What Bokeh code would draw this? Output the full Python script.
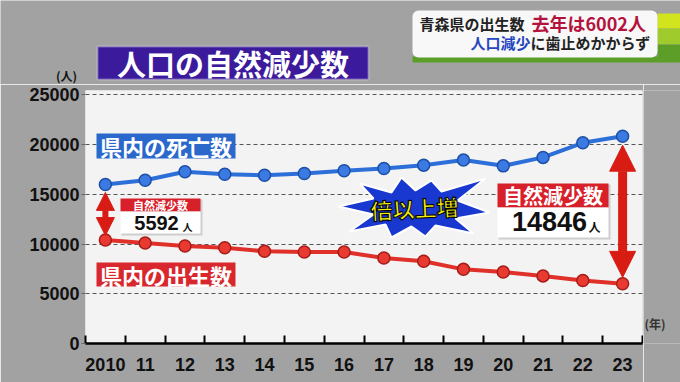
import numpy as np
from bokeh.plotting import figure
from bokeh.layouts import column, row
from bokeh.models import Range1d, FixedTicker, Label, BoxAnnotation, Arrow, NormalHead
from bokeh.embed import file_html
from bokeh.resources import INLINE

# ---- data ----
years = [2010, 2011, 2012, 2013, 2014, 2015, 2016, 2017, 2018, 2019, 2020, 2021, 2022, 2023]
year_labels = ["2010", "11", "12", "13", "14", "15", "16", "17", "18", "19", "20", "21", "22", "23"]
deaths = [16000, 16430, 17270, 17030, 16930, 17100, 17370, 17600, 17940, 18450, 17870, 18720, 20190, 20848]
births = [10408, 10110, 9810, 9640, 9270, 9200, 9200, 8600, 8270, 7460, 7190, 6800, 6330, 6002]
y_ticks = [0, 5000, 10000, 15000, 20000, 25000]
gap_2010 = "5592"
gap_2023 = "14846"

FONT = "Noto Sans CJK JP"
NUM_FONT = "Liberation Sans"
BLUE = "#2d6fd8"
RED = "#e0302a"
GRAY = "#a2a2a2"

TOP_H = 84
MAIN_W, MAIN_H = 643, 382 - TOP_H
SIDE_W = 680 - MAIN_W


def make_box(fig, X1, Y1, X2, Y2, color, tx, ty, units="data", line_color=None, line_width=0, radius=0, alpha=1.0):
    b = BoxAnnotation(left=tx(X1), right=tx(X2), top=ty(Y1), bottom=ty(Y2),
                      left_units=units, right_units=units, top_units=units, bottom_units=units,
                      fill_color=color, fill_alpha=alpha, line_color=line_color, line_width=line_width,
                      border_radius=radius)
    fig.add_layout(b)


def make_text(fig, X, Y, s, size, color, tx, ty, units="data", align="center", outline=None, angle=0, font=FONT):
    kw = dict(x=tx(X), y=ty(Y), x_units=units, y_units=units, text=s,
              text_font=font, text_font_style="bold", text_font_size=f"{size}px",
              text_color=color, text_align=align, text_baseline="middle", angle=angle)
    if outline:
        kw["text_outline_color"] = outline
    fig.add_layout(Label(**kw))


def bare(fig):
    fig.axis.visible = False
    fig.grid.visible = False
    fig.outline_line_color = None
    fig.border_fill_color = GRAY
    fig.background_fill_color = GRAY


# ---------------- top strip (header) ----------------
top = figure(width=680, height=TOP_H, output_backend="svg", toolbar_location=None,
             x_range=Range1d(0, 680), y_range=Range1d(0, TOP_H), min_border=0)
bare(top)
tX = lambda X: X
tY = lambda Y: TOP_H - Y

# title
make_box(top, 97, 46, 368, 79, "#3c1a9c", tX, tY, line_color="white", line_width=2)
make_text(top, 232.5, 62, "人口の自然減少数", 29, "white", tX, tY)
# unit label
make_text(top, 66, 75, "(人)", 12, "#111111", tX, tY)

# headline box top-right
make_box(top, 412, 56, 680, 62, "#5c9e28", tX, tY)
make_box(top, 657, 13, 680, 28, "#d2e41e", tX, tY)
make_box(top, 657, 28, 680, 44, "#9fcc2c", tX, tY)
make_box(top, 657, 44, 680, 57, "#5c9e28", tX, tY)
make_box(top, 412, 10, 657, 57, "#f8f8f8", tX, tY, radius=6)
make_text(top, 419, 22.5, "青森県の出生数", 15, "#222222", tX, tY, align="left")
make_text(top, 531, 22.5, "去年は6002人", 18, "#b4123c", tX, tY, align="left")
make_text(top, 470, 42, "人口減少", 15, "#2646c0", tX, tY, align="left")
make_text(top, 530, 42, "に歯止めかからず", 15, "#222222", tX, tY, align="left")

# ---------------- main chart ----------------
p = figure(width=MAIN_W, height=MAIN_H, output_backend="svg", toolbar_location=None,
           x_range=Range1d(2009.5, 2023.5), y_range=Range1d(0, 25450),
           min_border_left=85, min_border_right=MAIN_W - 642, min_border_top=90 - TOP_H,
           min_border_bottom=MAIN_H - (343 - TOP_H))
p.border_fill_color = GRAY
p.background_fill_color = "#f3f3f3"
p.outline_line_color = None

FL, FB = 85, 343  # frame left / bottom in page pixels
sX = lambda X: X - FL
sY = lambda Y: FB - Y

p.xgrid.grid_line_color = None
p.ygrid.ticker = FixedTicker(ticks=y_ticks)
p.ygrid.grid_line_color = "#555555"
p.ygrid.grid_line_dash = "4 3"
p.ygrid.grid_line_width = 1

p.yaxis.ticker = FixedTicker(ticks=y_ticks)
p.yaxis.axis_line_color = None
p.yaxis.major_tick_line_color = "#666666"
p.yaxis.major_tick_out = 4
p.yaxis.major_tick_in = 0
p.yaxis.minor_tick_line_color = None
p.yaxis.major_label_standoff = 2
p.yaxis.major_label_text_font = NUM_FONT
p.yaxis.major_label_text_font_style = "bold"
p.yaxis.major_label_text_font_size = "18px"
p.yaxis.major_label_text_color = "#111111"

p.xaxis.ticker = FixedTicker(ticks=years, minor_ticks=[y - 0.5 for y in years] + [years[-1] + 0.5])
p.xaxis.major_label_overrides = {y: l for y, l in zip(years, year_labels)}
p.xaxis.axis_line_color = "black"
p.xaxis.axis_line_width = 2.5
p.xaxis.major_tick_line_color = None
p.xaxis.minor_tick_line_color = "black"
p.xaxis.minor_tick_line_width = 2
p.xaxis.minor_tick_in = 8
p.xaxis.minor_tick_out = 0
p.xaxis.major_label_standoff = 8
p.xaxis.major_label_text_font = NUM_FONT
p.xaxis.major_label_text_font_style = "bold"
p.xaxis.major_label_text_font_size = "18px"
p.xaxis.major_label_text_color = "#111111"

# starburst (decoration)
cx, cy = 413, 208
burst = [(-75, -2), (-40, -10), (-54, -25), (-22, -16), (-12, -31), (2, -18), (18, -28), (28, -17),
         (72, -30), (44, -8), (76, 4), (42, 10), (60, 25), (22, 17), (12, 28), (-2, 18), (-22, 29),
         (-28, 16), (-64, 23), (-40, 6)]
bx = [2009.5 + (cx + dx - FL) / 39.786 for dx, dy in burst]
by = [(FB - (cy + dy)) / 253 * 25450 for dx, dy in burst]
p.patch(bx, by, fill_color="#1838d0", line_color="white", line_width=2)

# lines
p.line(years, deaths, color=BLUE, line_width=4)
p.scatter(years, deaths, size=12, fill_color="#3a7ae2", line_color="#1d4fa6", line_width=1.5)
p.line(years, births, color=RED, line_width=4)
p.scatter(years, births, size=12, fill_color="#e83a30", line_color="#a61c18", line_width=1.5)

# arrows
p.add_layout(Arrow(x_start=years[0], y_start=births[0] + 450, x_end=years[0], y_end=deaths[0] - 800,
                   line_color="#d81c14", line_width=6,
                   start=NormalHead(size=18, fill_color="#d81c14", line_color="#d81c14"),
                   end=NormalHead(size=18, fill_color="#d81c14", line_color="#d81c14")))
p.add_layout(Arrow(x_start=years[-1], y_start=births[-1] + 650, x_end=years[-1], y_end=deaths[-1] - 900,
                   line_color="#d81c14", line_width=9,
                   start=NormalHead(size=26, fill_color="#d81c14", line_color="#d81c14"),
                   end=NormalHead(size=26, fill_color="#d81c14", line_color="#d81c14")))

# series labels
make_box(p, 96, 133, 235, 158, "#2a68cc", sX, sY, units="screen")
make_text(p, 165.5, 145.5, "県内の死亡数", 22, "white", sX, sY, units="screen")
make_box(p, 96, 262, 235, 286, "#d8282e", sX, sY, units="screen")
make_text(p, 165.5, 274, "県内の出生数", 22, "white", sX, sY, units="screen")

# left callout
make_box(p, 121, 199, 202, 235, "#000000", sX, sY, units="screen", alpha=0.15)
make_box(p, 120, 198, 200, 211, "#d8202a", sX, sY, units="screen")
make_box(p, 120, 211, 200, 233, "white", sX, sY, units="screen")
make_text(p, 160, 204.5, "自然減少数", 11, "white", sX, sY, units="screen")
make_text(p, 156, 222, gap_2010, 20, "#111111", sX, sY, units="screen", font=NUM_FONT)
make_text(p, 187, 226, "人", 10, "#111111", sX, sY, units="screen")

# right callout
make_box(p, 498, 184, 610, 239, "#000000", sX, sY, units="screen", alpha=0.15)
make_box(p, 497, 183, 608, 207, "#d8202a", sX, sY, units="screen")
make_box(p, 497, 207, 608, 237, "white", sX, sY, units="screen")
make_text(p, 552.5, 195, "自然減少数", 20, "white", sX, sY, units="screen")
make_text(p, 549, 221, gap_2023, 27, "#111111", sX, sY, units="screen", font=NUM_FONT)
make_text(p, 594, 226, "人", 12, "#111111", sX, sY, units="screen")

# burst text
make_text(p, 414, 207, "倍以上増", 22, "#f4ee10", sX, sY, units="screen", outline="black", angle=0.05)

# ---------------- right side strip ----------------
side = figure(width=SIDE_W, height=MAIN_H, output_backend="svg", toolbar_location=None,
              x_range=Range1d(MAIN_W, 680), y_range=Range1d(0, MAIN_H), min_border=0)
bare(side)
rX = lambda X: X
rY = lambda Y: 382 - Y
make_text(side, 644, 358, "(年)", 12, "#333333", rX, rY, align="left")

layout = column(top, row(p, side, spacing=0), spacing=0)
open("out.html", "w").write(file_html(layout, INLINE))
